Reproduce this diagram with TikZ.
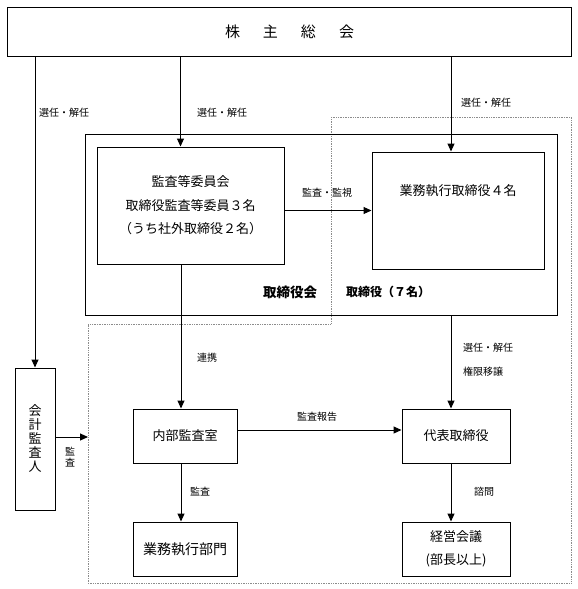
\documentclass[tikz,border=0pt]{standalone}
\usepackage{fontspec}
\setmainfont{Noto Sans CJK JP}
\usetikzlibrary{arrows.meta,positioning}

\newcommand{\fs}[1]{\fontsize{#1}{#1}\selectfont}

\begin{document}
\begin{tikzpicture}[x=1pt,y=-1pt]
\tikzstyle{box}=[draw,line width=1pt,inner sep=0pt,align=center,font=\fs{13}]
\tikzstyle{lbl}=[inner sep=0pt,anchor=west,font=\fs{10}]
\tikzstyle{arr}=[line width=1pt,-{Triangle[length=8pt,width=7pt]}]
\tikzstyle{area}=[densely dotted,line width=0.7pt,black!45]
\useasboundingbox (0,0) rectangle (578,589);
% area of the executive side
\draw [area] (331,117) -- (571,117) -- (571,583) -- (88,583) -- (88,324) -- (331,324) -- cycle;
% boxes
\node [box,minimum width=564pt,minimum height=49pt,font=\fs{15}] (gm) at (289.5,31.5)
  {株\hspace{23pt}主\hspace{23pt}総\hspace{23pt}会};
\node [box,minimum width=472pt,minimum height=181pt] (board) at (321,224.5) {};
\node [box,minimum width=187pt,minimum height=117pt,font={\fs{13}\baselineskip=23.5pt}] (kansa) at (190.5,205.5)
  {監査等委員会\\取締役監査等委員３名\\（うち社外取締役２名）};
\node [box,minimum width=172pt,minimum height=117pt] (gyomu) at (458,210.5) {};
\node [inner sep=0pt,font=\fs{13},below=33pt of gyomu.north] (gyomutxt) {業務執行取締役４名};
\node [inner sep=0pt,font=\fs{13.5}\bfseries] (bdname) at (290,292) {取締役会};
\node [inner sep=0pt,font=\fs{12}\bfseries] (bdnum) at (388,292) {取締役（７名）};
\node [box,minimum width=40pt,minimum height=142pt,font={\fs{13}\baselineskip=14pt}] (kaikei) at (35,439)
  {会\\計\\監\\査\\人};
\node [box,minimum width=104pt,minimum height=54pt] (naibu) at (185,436) {内部監査室};
\node [box,minimum width=108pt,minimum height=54pt] (daihyo) at (456,436) {代表取締役};
\node [box,minimum width=104pt,minimum height=54pt,font=\fs{14}] (bumon) at (185,549) {業務執行部門};
\node [box,minimum width=108pt,minimum height=54pt,font={\fs{13}\baselineskip=23pt}] (keiei) at (456,549)
  {経営会議\\(部長以上)};
% labels
\node [lbl] (sel1) at (39,113) {選任・解任};
\node [lbl] (sel2) at (197,113) {選任・解任};
\node [lbl] (sel3) at (461,103) {選任・解任};
\node [lbl] (kanshi) at (302,193) {監査・監視};
\node [lbl] (renkei) at (197,358) {連携};
\node [lbl] (sel4) at (463,348) {選任・解任};
\node [lbl] (joto) at (463,372) {権限移譲};
\node [lbl] (hokoku) at (297,417) {監査報告};
\node [lbl] (kansa2) at (190,492) {監査};
\node [lbl] (shimon) at (474,492) {諮問};
\node [lbl,anchor=center,align=center,font={\fs{10}\baselineskip=11pt}] (kansa3) at (70,457) {監\\査};
% connectors
\coordinate (ka) at ([xshift=-10pt]kansa.north);
\coordinate (gy) at ([xshift=-7pt]gyomu.north);
\coordinate (nb) at ([xshift=-4pt]naibu.north);
\coordinate (dh) at ([xshift=-5pt]daihyo.north);
\coordinate (audit) at (88,437);
\draw [arr] (gm.south -| kaikei.north) -- (kaikei.north);
\draw [arr] (gm.south -| ka) -- (ka);
\draw [arr] (gm.south -| gy) -- (gy);
\draw [arr] (kansa.east |- gyomu.west) -- (gyomu.west);
\draw [arr] (kansa.south -| nb) -- (nb);
\draw [arr] (board.south -| dh) -- (dh);
\draw [arr] ([yshift=6pt]naibu.east) -- ([yshift=6pt]daihyo.west);
\draw [arr] (naibu.south -| nb) -- (bumon.north -| nb);
\draw [arr] (daihyo.south -| dh) -- (keiei.north -| dh);
\draw [arr] (kaikei.east |- audit) -- (audit);
\end{tikzpicture}
\end{document}
